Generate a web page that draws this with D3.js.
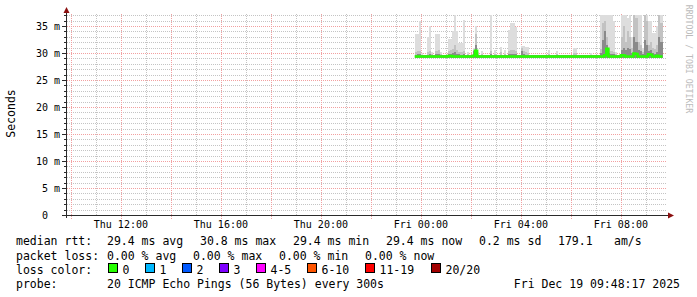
<!DOCTYPE html>
<html>
<head>
<meta charset="utf-8">
<script src="https://cdn.jsdelivr.net/npm/d3@7"></script>
<style>
html, body { margin: 0; padding: 0; background: #fff; }
svg { display: block; }
text { font-family: "DejaVu Sans Mono", monospace; white-space: pre; }
</style>
</head>
<body>
<div id="app"></div>
<script>
// time window of the graph (24h ending at the render time)
const rangeStart = '2025-12-18 09:48:17';
const rangeEnd = '2025-12-19 09:48:17';
// probe data exists from here on, 300s steps
const dataStart = '2025-12-18 23:45';
const dataEnd = '2025-12-19 09:40';

const yTicks = [0, 5, 10, 15, 20, 25, 30, 35];
const yMax = 37.04;
const xLabelTimes = ['2025-12-18 12:00', '2025-12-18 16:00', '2025-12-18 20:00', '2025-12-19 00:00', '2025-12-19 04:00', '2025-12-19 08:00'];
const xLabels = ['Thu 12:00', 'Thu 16:00', 'Thu 20:00', 'Fri 00:00', 'Fri 04:00', 'Fri 08:00'];

// quiet steps: median and thin smoke around it (ms)
const baseMedian = 29.35;
const baseLow = 29.1;
const baseHigh = 29.6;

// steps with smoke above the median (ms): outer band, middle band, inner band
const spikeTime = [
	'18 23:45', '18 23:50', '18 23:55', '19 00:00', '19 00:15', '19 00:20', '19 00:25', '19 00:35',
	'19 00:40', '19 00:45', '19 01:05', '19 01:10', '19 01:15', '19 01:20', '19 01:25', '19 01:30',
	'19 01:35', '19 01:40', '19 01:50', '19 02:05', '19 02:10', '19 02:15', '19 02:25', '19 02:45',
	'19 02:55', '19 03:10', '19 03:20', '19 03:30', '19 03:35', '19 03:40', '19 03:45', '19 04:00',
	'19 04:05', '19 04:10', '19 04:15', '19 05:05', '19 05:25', '19 06:05', '19 06:10', '19 06:45',
	'19 07:10', '19 07:15', '19 07:20', '19 07:25', '19 07:30', '19 07:35', '19 07:40', '19 07:45',
	'19 08:00', '19 08:05', '19 08:10', '19 08:15', '19 08:20', '19 08:25', '19 08:30', '19 08:35',
	'19 08:40', '19 08:45', '19 08:50', '19 08:55', '19 09:00', '19 09:05', '19 09:10', '19 09:15',
	'19 09:20', '19 09:25', '19 09:30', '19 09:35',
];
const spikeHigh = [
	33.5, 33.5, 36.0, 30.0, 33.0, 35.0, 30.2, 33.5,
	33.5, 30.2, 32.6, 32.6, 34.0, 37.5, 34.0, 31.8,
	31.8, 36.1, 30.1, 30.9, 35.0, 30.2, 30.3, 37.5,
	30.5, 31.1, 30.5, 34.3, 35.6, 35.6, 34.8, 31.3,
	31.3, 31.1, 31.1, 30.6, 30.4, 31.0, 31.0, 30.0,
	37.0, 37.5, 37.5, 37.0, 37.0, 37.0, 36.0, 30.2,
	37.5, 37.5, 37.5, 36.5, 37.0, 33.0, 37.5, 37.5,
	37.5, 37.5, 31.0, 37.5, 37.5, 36.0, 36.0, 33.7,
	33.7, 35.0, 37.5, 37.5,
];
const spikeMid = [
	30.2, 30.4, 30.4, 29.7, 30.1, 30.3, 29.8, 30.3,
	30.5, 29.8, 30.4, 30.6, 30.8, 31.5, 30.5, 30.2,
	30.1, 30.3, 29.8, 30.6, 33.5, 29.9, 29.9, 30.4,
	29.9, 30.1, 29.9, 30.4, 30.6, 30.5, 30.4, 30.9,
	30.3, 30.1, 30.0, 29.9, 29.8, 30.0, 30.0, 29.7,
	30.8, 35.5, 36.0, 33.0, 30.8, 30.4, 30.2, 29.9,
	33.0, 35.0, 32.0, 34.0, 33.0, 31.0, 37.0, 36.5,
	32.0, 31.5, 30.2, 37.0, 36.0, 31.5, 32.0, 31.0,
	30.8, 31.5, 37.0, 35.5,
];
const spikeDark = [
	29.7, 29.8, 29.8, 29.6, 29.7, 29.8, 29.6, 29.8,
	29.9, 29.6, 29.8, 29.9, 30.0, 30.2, 29.9, 29.8,
	29.7, 29.8, 29.6, 30.3, 31.5, 29.6, 29.6, 29.8,
	29.6, 29.7, 29.6, 29.8, 29.9, 29.8, 29.8, 30.3,
	29.9, 29.7, 29.7, 29.6, 29.6, 29.7, 29.7, 29.6,
	30.0, 32.5, 34.0, 31.5, 30.0, 29.8, 29.8, 29.6,
	30.5, 31.0, 30.5, 31.0, 30.8, 30.0, 33.0, 32.0,
	30.5, 30.3, 29.8, 32.5, 31.5, 30.3, 30.5, 30.0,
	29.9, 30.2, 33.0, 32.0,
];

// steps where the median differs from the quiet level (ms)
const medianTime = ['19 01:05', '19 01:10', '19 02:05', '19 02:10', '19 07:20', '19 07:25', '19 08:00', '19 08:05', '19 08:30', '19 08:35', '19 09:05', '19 09:10', '19 09:25'];
const medianValue = [29.45, 29.45, 29.5, 30.4, 29.6, 30.8, 29.6, 29.55, 29.9, 29.8, 29.75, 29.7, 29.5];

const lossLabels = ['0', '1', '2', '3', '4-5', '6-10', '11-19', '20/20'];
const lossColors = ['#26ff00', '#00b8ff', '#0059ff', '#7e00ff', '#ff00ff', '#ff5500', '#ff0000', '#a10000'];

const render = () => {
	const width = 697;
	const height = 297;
	const parseFull = d3.timeParse('%Y-%m-%d %H:%M:%S');
	const parseMin = d3.timeParse('%Y-%m-%d %H:%M');

	const x = d3.scaleTime()
		.domain([parseFull(rangeStart), parseFull(rangeEnd)])
		.range([66, 666]);
	const y = d3.scaleLinear()
		.domain([0, yMax])
		.range([215, 15]);
	const px = (v) => Math.round(v) + 0.5;

	const svg = d3.select('#app').append('svg')
		.attr('width', width)
		.attr('height', height);

	// grid
	const grid = svg.append('g').attr('shape-rendering', 'crispEdges');
	const minorY = d3.range(1, 38).filter((v) => v % 5 !== 0);
	grid.selectAll('line.hminor')
		.data(minorY)
		.enter()
		.append('line')
		.attr('x1', 67).attr('x2', 667)
		.attr('y1', (d) => px(y(d))).attr('y2', (d) => px(y(d)))
		.attr('stroke', '#c4c4c4')
		.attr('stroke-dasharray', '1,1');

	const t0 = parseFull(rangeStart);
	const t1 = parseFull(rangeEnd);
	const hours = d3.timeHour.range(t0, t1);
	grid.selectAll('line.vminor')
		.data(hours.filter((d) => d.getHours() % 2 !== 0))
		.enter()
		.append('line')
		.attr('x1', (d) => px(x(d))).attr('x2', (d) => px(x(d)))
		.attr('y1', 14).attr('y2', 215)
		.attr('stroke', '#c4c4c4')
		.attr('stroke-dasharray', '1,1');

	grid.selectAll('line.hmajor')
		.data(yTicks.filter((d) => d > 0))
		.enter()
		.append('line')
		.attr('x1', 67).attr('x2', 667)
		.attr('y1', (d) => px(y(d))).attr('y2', (d) => px(y(d)))
		.attr('stroke', '#f2a0a0')
		.attr('stroke-dasharray', '1,1');

	grid.selectAll('line.vmajor')
		.data(hours.filter((d) => d.getHours() % 2 === 0))
		.enter()
		.append('line')
		.attr('x1', (d) => px(x(d))).attr('x2', (d) => px(x(d)))
		.attr('y1', 14).attr('y2', 219)
		.attr('stroke', '#f2a0a0')
		.attr('stroke-dasharray', '1,1');

	// per-step data
	const spikeByTime = new Map(spikeTime.map((t, i) => [t, i]));
	const medianByTime = new Map(medianTime.map((t, i) => [t, medianValue[i]]));
	const fmtStep = d3.timeFormat('%d %H:%M');
	const stepStart = parseMin(dataStart);
	const stepEnd = parseMin(dataEnd);
	const steps = d3.timeMinute.every(5).range(stepStart, stepEnd).map((t) => {
		const key = fmtStep(t);
		const i = spikeByTime.get(key);
		return {
			t,
			t2: new Date(+t + 300000),
			median: medianByTime.has(key) ? medianByTime.get(key) : baseMedian,
			low: baseLow,
			high: i === undefined ? baseHigh : spikeHigh[i],
			mid: i === undefined ? baseHigh : spikeMid[i],
			dark: i === undefined ? baseHigh : spikeDark[i],
		};
	});

	const clipTop = (v) => Math.min(v, yMax);
	const smoke = svg.append('g').attr('shape-rendering', 'crispEdges');
	const bands = [
		{key: 'high', color: '#dddddd'},
		{key: 'mid', color: '#c2c2c2'},
		{key: 'dark', color: '#8a8a8a'},
	];
	bands.forEach((band) => {
		smoke.selectAll(null)
			.data(steps)
			.enter()
			.append('rect')
			.attr('x', (d) => Math.round(x(d.t)))
			.attr('width', (d) => Math.round(x(d.t2)) - Math.round(x(d.t)))
			.attr('y', (d) => Math.round(y(clipTop(d[band.key]))))
			.attr('height', (d) => Math.max(0, Math.round(y(d.low)) - Math.round(y(clipTop(d[band.key])))))
			.attr('fill', band.color);
	});

	// median line, coloured by loss (0 loss everywhere)
	const medianPts = steps.map((d) => [d.t, d.median]);
	medianPts.push([stepEnd, steps[steps.length - 1].median]);
	svg.append('path')
		.datum(medianPts)
		.attr('fill', 'none')
		.attr('stroke', lossColors[0])
		.attr('stroke-width', 2.5)
		.attr('d', d3.line()
			.x((d) => x(d[0]))
			.y((d) => y(d[1]))
			.curve(d3.curveStepAfter));

	// axes
	const axis = svg.append('g').attr('shape-rendering', 'crispEdges');
	axis.append('line')
		.attr('x1', 62).attr('x2', 669)
		.attr('y1', 215.5).attr('y2', 215.5)
		.attr('stroke', '#2a2a2a');
	axis.append('line')
		.attr('x1', 66.5).attr('x2', 66.5)
		.attr('y1', 218).attr('y2', 11)
		.attr('stroke', '#2a2a2a');
	axis.selectAll('line.ytick')
		.data(d3.range(0, 38))
		.enter()
		.append('line')
		.attr('x1', (d) => d % 5 === 0 ? 62 : 64).attr('x2', 66)
		.attr('y1', (d) => px(y(d))).attr('y2', (d) => px(y(d)))
		.attr('stroke', '#2a2a2a');
	svg.append('path')
		.attr('d', 'M63.5,13L69.5,13L66.5,7Z')
		.attr('fill', '#8b1010');
	svg.append('path')
		.attr('d', 'M668,212.5L668,218.5L674,215.5Z')
		.attr('fill', '#8b1010');

	// tick labels
	svg.selectAll('text.ylab')
		.data(yTicks)
		.enter()
		.append('text')
		.attr('x', (d) => d === 0 ? 48 : 60)
		.attr('y', (d) => y(d) + 3.5)
		.attr('text-anchor', 'end')
		.attr('font-size', 10)
		.text((d) => d === 0 ? '0' : `${d} m`);

	svg.selectAll('text.xlab')
		.data(xLabelTimes)
		.enter()
		.append('text')
		.attr('x', (d) => x(parseMin(d)))
		.attr('y', 228)
		.attr('text-anchor', 'middle')
		.attr('font-size', 10)
		.text((d, i) => xLabels[i]);

	svg.append('text')
		.attr('transform', 'translate(15,113.5) rotate(-90)')
		.attr('text-anchor', 'middle')
		.attr('font-size', 11.5)
		.text('Seconds');

	svg.append('text')
		.attr('transform', 'translate(686,59) rotate(90)')
		.attr('text-anchor', 'middle')
		.attr('font-size', 8.2)
		.attr('fill', '#bbbbbb')
		.text('RRDTOOL / TOBI OETIKER');

	// legend
	const legend = svg.append('g').attr('font-size', 11.5).attr('fill', '#000');
	const put = (tx, ty, s) => legend.append('text').attr('x', tx).attr('y', ty).text(s);
	put(16, 245, 'median rtt:');
	put(107, 245, '29.4 ms avg');
	put(200, 245, '30.8 ms max');
	put(293, 245, '29.4 ms min');
	put(386, 245, '29.4 ms now');
	put(479, 245, '0.2 ms sd');
	put(558, 245, '179.1');
	put(614, 245, 'am/s');

	put(16, 259.5, 'packet loss:');
	put(107, 259.5, '0.00 % avg');
	put(193, 259.5, '0.00 % max');
	put(279, 259.5, '0.00 % min');
	put(365, 259.5, '0.00 % now');

	put(16, 273.5, 'loss color:');
	const boxX = [108, 145, 182, 219, 256, 307, 365, 431];
	lossLabels.forEach((lab, i) => {
		legend.append('rect')
			.attr('x', boxX[i] + 0.5).attr('y', 263.5)
			.attr('width', 9).attr('height', 9)
			.attr('fill', lossColors[i])
			.attr('stroke', '#000')
			.attr('shape-rendering', 'crispEdges');
		put(boxX[i] + 14.5, 273.5, lab);
	});

	put(16, 288, 'probe:');
	put(107, 288, '20 ICMP Echo Pings (56 Bytes) every 300s');
	legend.append('text')
		.attr('x', 680).attr('y', 288)
		.attr('text-anchor', 'end')
		.text('Fri Dec 19 09:48:17 2025');
};

render();
</script>
</body>
</html>
